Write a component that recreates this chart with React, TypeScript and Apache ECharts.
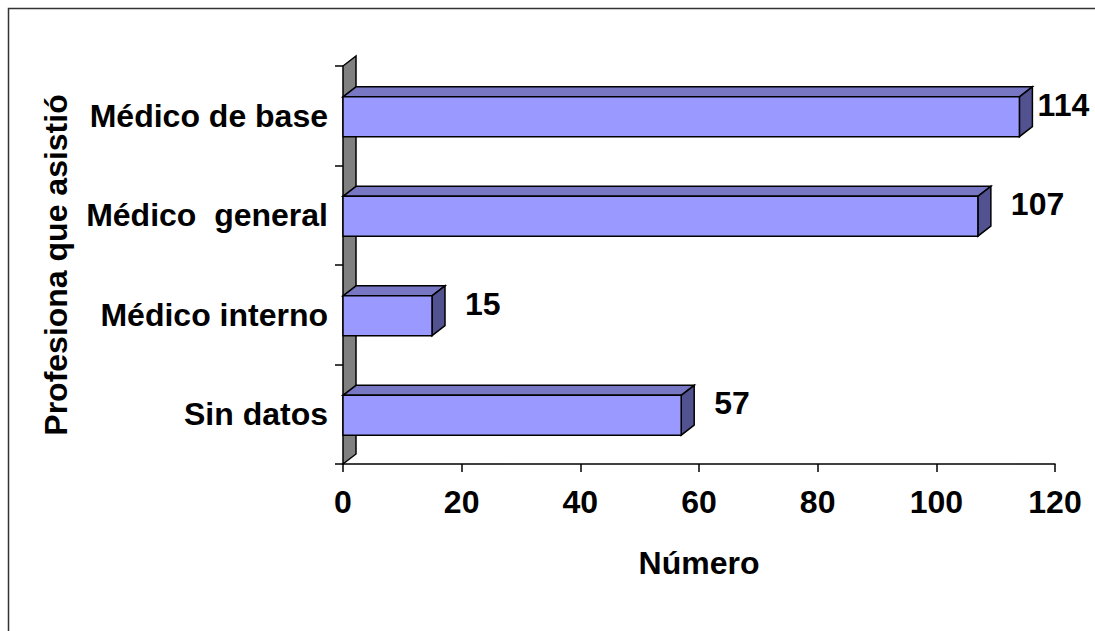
import React, { useEffect, useRef } from "react";
import * as echarts from "echarts";

const categories = ["Médico de base", "Médico  general", "Médico interno", "Sin datos"];
const values = [114, 107, 15, 57];
const xTicks = [0, 20, 40, 60, 80, 100, 120];
const xTitle = "Número";
const yTitle = "Profesiona que asistió";

const FONT = 'Arial, "Liberation Sans", Helvetica, sans-serif';
const FS = 32;
const DX = 13;
const DY = 10;
const FRONT = "#9999FF";
const TOP = "#7777C4";
const SIDE = "#525290";
const WALL = "#808080";
const STROKE = "#000";

export default function App() {
  const ref = useRef<HTMLDivElement>(null);
  useEffect(() => {
    document.body.style.margin = "0";
    const chart = echarts.init(ref.current!, null, { renderer: "svg" });
    const textStyle = { fontFamily: FONT, fontSize: FS, fontWeight: "bold" as const, color: "#000" };
    const option: any = {
      animation: false,
      backgroundColor: "#fff",
      graphic: [
        {
          type: "polyline",
          silent: true,
          z: -1,
          shape: { points: [[8.5, 1000], [8.5, 8.5], [1400, 8.5]] },
          style: { fill: "none", stroke: "#333", lineWidth: 1.5 },
        },
      ],
      grid: { left: 343, right: 40, top: 66, bottom: 167 },
      xAxis: {
        type: "value",
        min: xTicks[0],
        max: xTicks[xTicks.length - 1],
        interval: xTicks[1] - xTicks[0],
        name: xTitle,
        nameLocation: "middle",
        nameGap: 83,
        nameTextStyle: textStyle,
        axisLine: { show: true, lineStyle: { color: STROKE, width: 1.5 } },
        axisTick: { show: true, length: 8, lineStyle: { color: STROKE, width: 1.5 } },
        axisLabel: { margin: 22, ...textStyle },
        splitLine: { show: false },
      },
      yAxis: {
        type: "category",
        data: categories,
        inverse: true,
        name: yTitle,
        nameLocation: "middle",
        nameRotate: 90,
        nameGap: 271,
        nameTextStyle: textStyle,
        axisLine: { show: false },
        axisTick: { show: true, length: 8, lineStyle: { color: STROKE, width: 1.5 } },
        axisLabel: { margin: 15, ...textStyle },
        splitLine: { show: false },
      },
      series: [
        {
          type: "custom",
          name: "wall",
          silent: true,
          clip: false,
          z: 1,
          data: [[0, 0]],
          renderItem: (params: any, api: any) => {
            const cs = params.coordSys;
            const x = cs.x, y = cs.y, h = cs.height;
            return {
              type: "polygon",
              shape: {
                points: [
                  [x, y + h],
                  [x + DX, y + h - DY],
                  [x + DX, y - DY],
                  [x, y],
                ],
              },
              style: { fill: WALL, stroke: STROKE, lineWidth: 1.5, lineJoin: "miter" },
            };
          },
        },
        {
          type: "custom",
          name: "Número",
          silent: true,
          clip: false,
          z: 2,
          data: values.map((v, i) => [v, i]),
          renderItem: (params: any, api: any) => {
            const v = api.value(0);
            const i = api.value(1);
            const p0 = api.coord([0, i]);
            const p1 = api.coord([v, i]);
            const band = api.size([0, 1])[1];
            const h = band * 0.4;
            const yTop = p0[1] - h / 2 + 1;
            const yBot = yTop + h;
            const x0 = p0[0];
            const x1 = p1[0];
            const st = { stroke: STROKE, lineWidth: 1.5, lineJoin: "miter" };
            const txt = String(v);
            const w = txt.length * 0.556 * FS;
            let lx = x1 + DX + 20;
            const maxX = api.getWidth() - 4 - w;
            if (lx > maxX) lx = maxX;
            return {
              type: "group",
              children: [
                {
                  type: "polygon",
                  shape: { points: [[x0, yTop], [x1, yTop], [x1 + DX, yTop - DY], [x0 + DX, yTop - DY]] },
                  style: { fill: TOP, ...st },
                },
                {
                  type: "polygon",
                  shape: { points: [[x1, yTop], [x1 + DX, yTop - DY], [x1 + DX, yBot - DY], [x1, yBot]] },
                  style: { fill: SIDE, ...st },
                },
                {
                  type: "rect",
                  shape: { x: x0, y: yTop, width: x1 - x0, height: h },
                  style: { fill: FRONT, ...st },
                },
                {
                  type: "text",
                  x: lx,
                  y: p0[1] - 11,
                  style: {
                    text: txt,
                    fontFamily: FONT,
                    fontSize: FS,
                    fontWeight: "bold",
                    fill: "#000",
                    align: "left",
                    verticalAlign: "middle",
                  },
                },
              ],
            };
          },
        },
      ],
    };
    chart.setOption(option);
    return () => chart.dispose();
  }, []);
  return <div ref={ref} style={{ width: 1095, height: 631, overflow: "hidden" }} />;
}
